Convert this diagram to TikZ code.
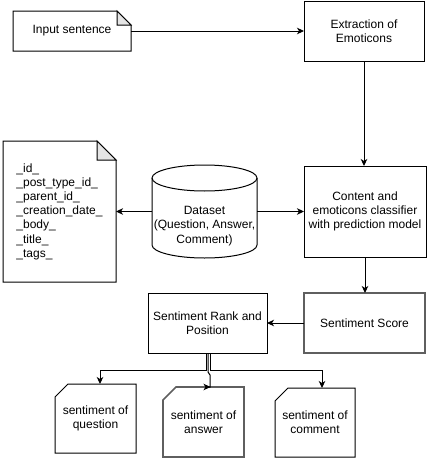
\documentclass[tikz,border=0pt]{standalone}
\usepackage{fontspec}
\setmainfont{Liberation Sans}
\usetikzlibrary{arrows.meta,calc}
\tikzset{
  base/.style={inner sep=0pt, outer sep=0pt, align=center, font=\fontsize{12}{14.2}\selectfont},
  boxed/.style={base, draw, line width=1pt},
  plain/.style={base},
  graybox/.style={base, draw={rgb,255:red,95;green,95;blue,95}, line width=1.6pt},
  conn/.style={line width=1pt, -{Stealth[length=7pt,width=6.5pt,inset=2pt]}},
  outline/.style={line width=1pt},
  grayline/.style={draw={rgb,255:red,95;green,95;blue,95}, line width=1.6pt},
  foldfill/.style={fill=black!10, line width=1pt}
}
\begin{document}
\begin{tikzpicture}[x=1pt,y=-1pt]
\useasboundingbox (0,0) rectangle (429,458);

% nodes
\node[plain, minimum width=118, minimum height=40] (inp) at (72,31) {Input sentence};
\node[boxed, minimum width=120, minimum height=60] (ext) at (364,31) {Extraction of\\Emoticons};
\node[boxed, minimum width=122, minimum height=91] (cls) at (365,211.5) {Content and\\emoticons classifier\\with prediction model};
\node[plain, align=left, minimum width=113, minimum height=141] (doc) at (59.5,211.5) {\_id\_\\\_post\_type\_id\_\\\_parent\_id\_\\\_creation\_date\_\\\_body\_\\\_title\_\\\_tags\_};
\node[plain, minimum width=105, minimum height=93,
  label={[base, yshift=-14.5pt, align=center]center:{Dataset\\(Question, Answer,\\Comment)}}] (ds) at (204.5,211.5) {};
\node[graybox, minimum width=121, minimum height=60] (score) at (364.5,323) {Sentiment Score};
\node[boxed, minimum width=119, minimum height=60] (rank) at (207.5,323) {Sentiment Rank and\\Position};
\node[plain, minimum width=81, minimum height=69] (q) at (95.5,418.5) {sentiment of\\question};
\node[plain, minimum width=81, minimum height=70] (a) at (203.5,422) {sentiment of\\answer};
\node[plain, minimum width=80, minimum height=69] (c) at (315,422.5) {sentiment of\\comment};

% note shape: input sentence
\draw[outline] (inp.north west) -- ([xshift=-14pt]inp.north east) -- ([yshift=-14pt]inp.north east) -- (inp.south east) -- (inp.south west) -- cycle;
\draw[foldfill] ([xshift=-14pt]inp.north east) -- ([xshift=-14pt,yshift=-14pt]inp.north east) -- ([yshift=-14pt]inp.north east) -- cycle;

% note shape: document fields
\draw[outline] (doc.north west) -- ([xshift=-19pt]doc.north east) -- ([yshift=-19pt]doc.north east) -- (doc.south east) -- (doc.south west) -- cycle;
\draw[foldfill] ([xshift=-19pt]doc.north east) -- ([xshift=-19pt,yshift=-19pt]doc.north east) -- ([yshift=-19pt]doc.north east) -- cycle;

% cylinder
\draw[outline] ([yshift=-13pt]ds.north) ellipse [x radius=52.5, y radius=13];
\draw[outline] ([yshift=-13pt]ds.north west) -- ([yshift=13pt]ds.south west)
  arc[start angle=180, end angle=360, x radius=52.5, y radius=-13]
  -- ([yshift=-13pt]ds.north east);

% cards
\draw[outline] ([yshift=-13pt]q.north west) -- ([xshift=13pt]q.north west) -- (q.north east) -- (q.south east) -- (q.south west) -- cycle;
\draw[grayline] ([yshift=-13pt]a.north west) -- ([xshift=13pt]a.north west) -- (a.north east) -- (a.south east) -- (a.south west) -- cycle;
\draw[outline] ([yshift=-13pt]c.north west) -- ([xshift=13pt]c.north west) -- (c.north east) -- (c.south east) -- (c.south west) -- cycle;

% connectors
\draw[conn] (inp.east) -- (ext.west);
\draw[conn] (ext.south) -- (ext.south |- cls.north);
\draw[conn] (ds.west) -- (doc.east);
\draw[conn] (ds.east) -- (cls.west);
\draw[conn] (cls.south) -- (cls.south |- score.north);
\draw[conn] (score.west) -- (rank.east);
\draw[conn] ([xshift=-1.5pt]rank.south) -- ++(0,17) -| ([xshift=4.5pt]q.north);
\draw[conn] ([xshift=0.5pt]rank.south) -- ++(0,19) -- ++(2,3) |- ([xshift=7pt]a.north);
\draw[conn] ([xshift=2.5pt]rank.south) -- ++(0,17) -| ([xshift=7pt]c.north);
\end{tikzpicture}
\end{document}
